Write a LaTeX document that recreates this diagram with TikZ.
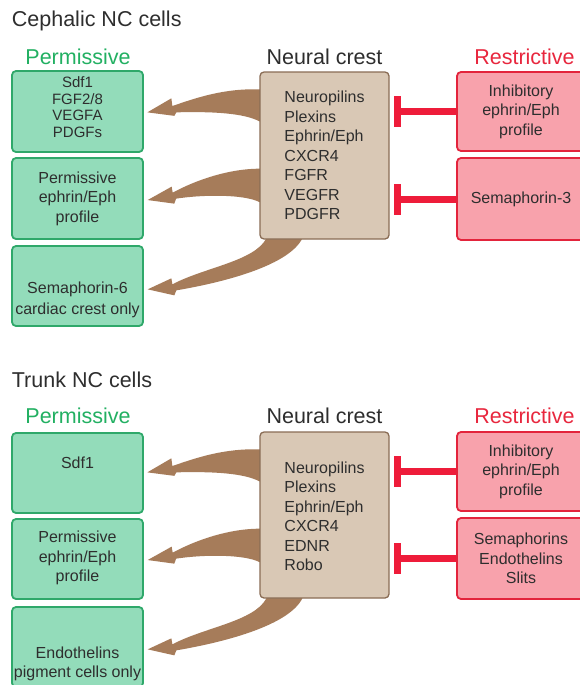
\documentclass[tikz,border=0pt]{standalone}
\usepackage{fontspec}
\setmainfont{Liberation Sans}
\usetikzlibrary{calc}
\definecolor{gfill}{HTML}{93DCBA}
\definecolor{gdraw}{HTML}{2FA86A}
\definecolor{gtext}{HTML}{22B062}
\definecolor{tfill}{HTML}{D9C8B5}
\definecolor{tdraw}{HTML}{8A6D55}
\definecolor{rfill}{HTML}{F8A2AC}
\definecolor{rdraw}{HTML}{E3243C}
\definecolor{rtext}{HTML}{E8273E}
\definecolor{inh}{HTML}{EE1C3A}
\definecolor{brn}{HTML}{A67C5A}
\definecolor{txt}{HTML}{2E2E2E}
\pgfdeclarelayer{bg}
\pgfdeclarelayer{paper}
\pgfsetlayers{paper,bg,main}
\newcommand\ncarrows[1]{%
 \begin{scope}[shift={(#1.north west)}]
  \fill[brn] (6,18) -- (0,18) .. controls (-35,17) and (-62,26) .. (-87,34.7) -- (-88,27) -- (-112,41) -- (-85,44.5) -- (-83,41) .. controls (-45,40) and (-15,42) .. (0,50) -- (6,50) -- cycle;
  \fill[brn] (6,97.3) -- (0,97.3) .. controls (-30,97.5) and (-62,108) .. (-86.7,121.3) -- (-87.7,115.3) -- (-111.7,128.7) -- (-85,132.3) -- (-83.3,127.3) .. controls (-55,123) and (-15,123) .. (0,130.7) -- (6,130.7) -- cycle;
  \fill[brn] (7,160) -- (7,167) .. controls (-5,190) and (-55,196) .. (-87,213) -- (-88,207) -- (-111.7,218) -- (-85,224) -- (-83,219) .. controls (-30,210) and (30,193) .. (43,167) -- (43,160) -- cycle;
 \end{scope}}
\newcommand\inhibit[2]{%
  \draw[inhibline] (#2.west) -- ($(#1.east |- #2.west)+(4,0)$);
  \fill[inh] ($(#1.east |- #2.west)+(4,-15.5)$) rectangle ++(7,31);}
\begin{document}
\begin{tikzpicture}[x=1pt,y=-1pt,
  box/.style={rectangle, rounded corners=4pt, line width=1.8pt, inner sep=0pt},
  gbox/.style={box, fill=gfill, draw=gdraw, minimum width=131pt},
  tbox/.style={box, fill=tfill, draw=tdraw, line width=1.3pt, minimum width=129pt},
  rbox/.style={box, fill=rfill, draw=rdraw, minimum width=128pt},
  body/.style={text=txt, font=\fontsize{16}{19.5}\selectfont, align=center, inner sep=0pt},
  head/.style={font=\fontsize{21.5}{24}\selectfont, anchor=base, inner sep=0pt},
  inhibline/.style={draw=inh, line width=7pt},
]
\begin{pgfonlayer}{paper}
\fill[white] (0,0) rectangle (580,685);
\end{pgfonlayer}
\useasboundingbox (0,0) rectangle (580,685);

% ---------- Cephalic ----------
\node[head, text=txt, anchor=base west] (cap1) at (11.7,27) {Cephalic NC cells};
\node[head, text=gtext] (perm1) at (78,64.5) {Permissive};
\node[head, text=txt] (ncl1) at (324.5,64.5) {Neural crest};
\node[head, text=rtext] (res1) at (524.5,64.5) {Restrictive};

\node[gbox, minimum height=81pt] (g1) at (77.5,111.5) {};
\node[gbox, minimum height=81pt] (g2) at (77.5,198.5) {};
\node[gbox, minimum height=80pt] (g3) at (77.5,286) {};
\node[tbox, minimum height=167pt] (nc1) at (324.5,155.5) {};
\node[rbox, minimum height=79pt] (r1) at (521,111.5) {};
\node[rbox, minimum height=82pt] (r2) at (521,199) {};

\node[body, font=\fontsize{15}{16.5}\selectfont] (g1t) at (77.5,107) {Sdf1\\FGF2/8\\VEGFA\\PDGFs};
\node[body] (g2t) at (77.5,198.5) {Permissive\\ephrin/Eph\\profile};
\node[body, font=\fontsize{16}{21}\selectfont] (g3t) at (77.5,300) {Semaphorin-6\\cardiac crest only};
\node[body, align=left] (nc1t) at (324.5,155.5) {Neuropilins\\Plexins\\Ephrin/Eph\\CXCR4\\FGFR\\VEGFR\\PDGFR};
\node[body] (r1t) at (521,111.5) {Inhibitory\\ephrin/Eph\\profile};
\node[body] (r2t) at (521,199) {Semaphorin-3};

\begin{pgfonlayer}{bg}\ncarrows{nc1}\end{pgfonlayer}
\inhibit{nc1}{r1}
\inhibit{nc1}{r2}

% ---------- Trunk ----------
\node[head, text=txt, anchor=base west] (cap2) at (11.7,387) {Trunk NC cells};
\node[head, text=gtext] (perm2) at (78,423) {Permissive};
\node[head, text=txt] (ncl2) at (324.5,423) {Neural crest};
\node[head, text=rtext] (res2) at (524.5,423) {Restrictive};

\node[gbox, minimum height=80pt] (g4) at (77.5,473) {};
\node[gbox, minimum height=80pt] (g5) at (77.5,559) {};
\node[gbox, minimum height=80pt] (g6) at (77.5,647) {};
\node[tbox, minimum height=166pt] (nc2) at (324.5,515) {};
\node[rbox, minimum height=79pt] (r3) at (521,471.5) {};
\node[rbox, minimum height=81pt] (r4) at (521,558.5) {};

\node[body] (g4t) at (77.5,463) {Sdf1};
\node[body] (g5t) at (77.5,558) {Permissive\\ephrin/Eph\\profile};
\node[body] (g6t) at (77.5,664) {Endothelins\\pigment cells only};
\node[body, align=left] (nc2t) at (324.5,516.5) {Neuropilins\\Plexins\\Ephrin/Eph\\CXCR4\\EDNR\\Robo};
\node[body] (r3t) at (521,471.5) {Inhibitory\\ephrin/Eph\\profile};
\node[body] (r4t) at (521,558.5) {Semaphorins\\Endothelins\\Slits};

\begin{pgfonlayer}{bg}\ncarrows{nc2}\end{pgfonlayer}
\inhibit{nc2}{r3}
\inhibit{nc2}{r4}
\end{tikzpicture}
\end{document}
